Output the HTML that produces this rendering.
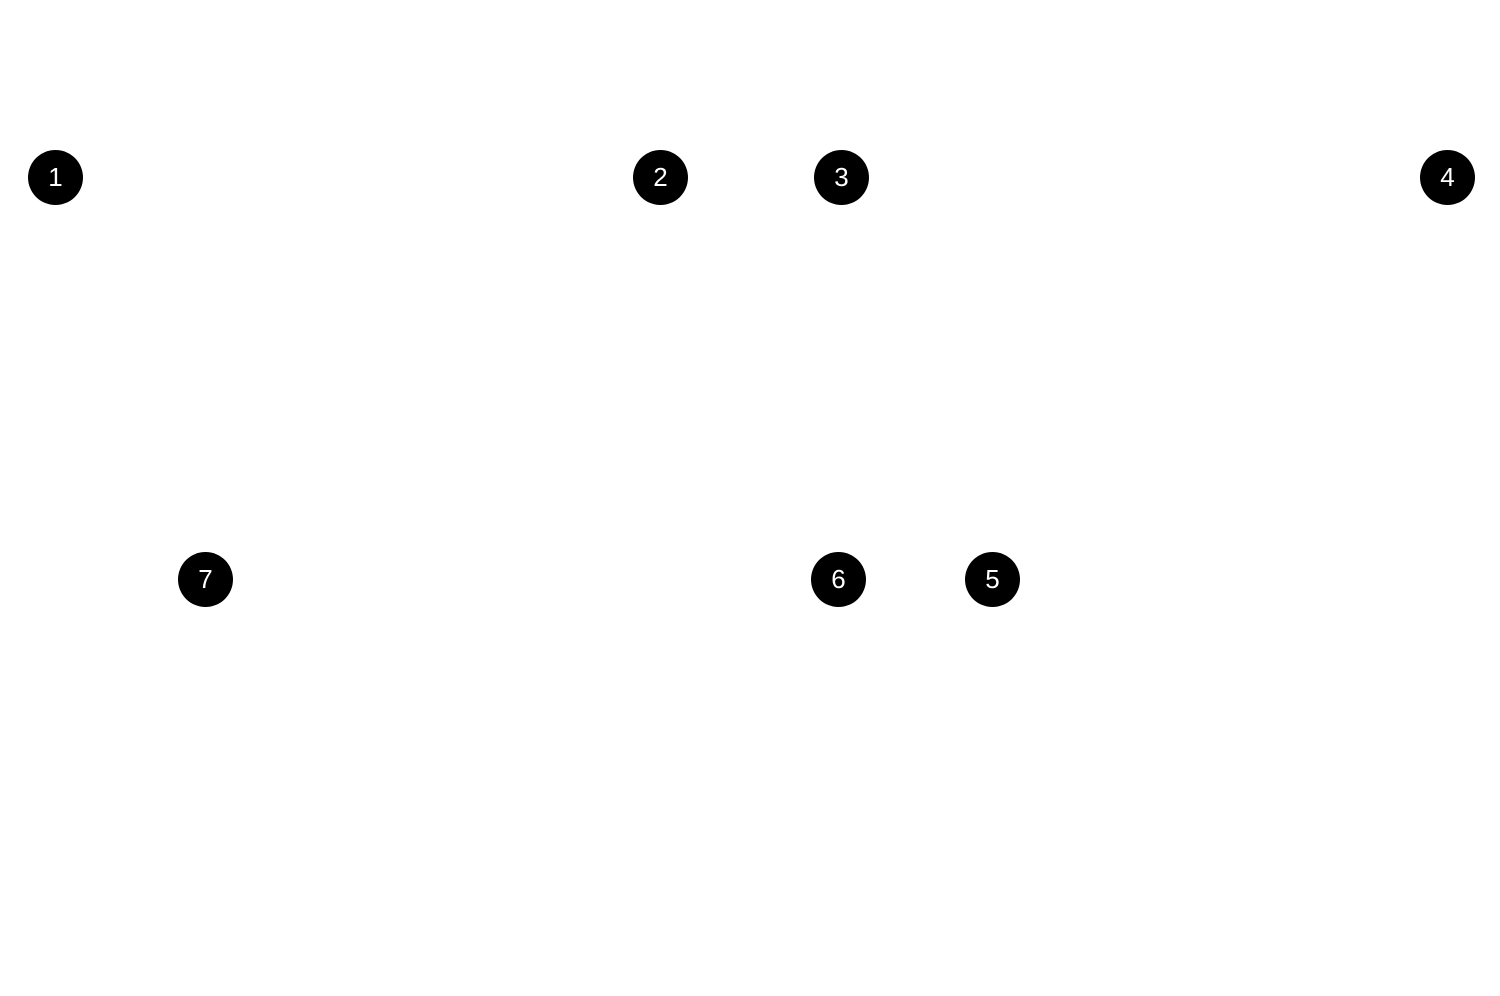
<!DOCTYPE html>
<html><head><style>
html,body{margin:0;padding:0;background:#fff;width:1500px;height:996px;overflow:hidden}
.c{position:absolute;width:55px;height:55px;border-radius:50%;background:#000;color:#fff;font-family:"Liberation Sans","DejaVu Sans",sans-serif;font-size:26px;line-height:55px;text-align:center}
</style></head><body>
<div class="c" style="left:28px;top:150px">1</div>
<div class="c" style="left:633px;top:150px">2</div>
<div class="c" style="left:814px;top:150px">3</div>
<div class="c" style="left:1420px;top:150px">4</div>
<div class="c" style="left:965px;top:552px">5</div>
<div class="c" style="left:811px;top:552px">6</div>
<div class="c" style="left:178px;top:552px">7</div>
</body></html>
